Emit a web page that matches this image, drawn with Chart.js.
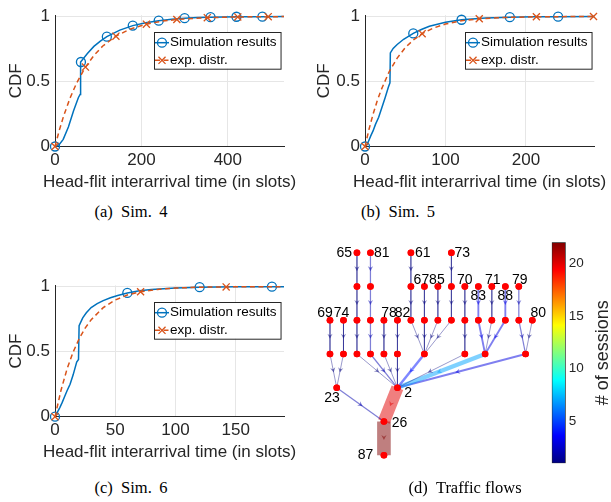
<!DOCTYPE html>
<html>
<head>
<meta charset="utf-8">
<title>Head-flit interarrival times and traffic flows</title>
<script src="https://cdn.jsdelivr.net/npm/chart.js@4.4.1/dist/chart.umd.min.js"></script>
<style>
  body { margin: 0; background: #fff; }
  #fig { position: relative; width: 611px; height: 502px; background: #fff; overflow: hidden; }
  #fig canvas { position: absolute; }
  .cap { position: absolute; width: 220px; text-align: center; white-space: nowrap;
         font: 16.5px "Liberation Serif", "Times New Roman", serif; line-height: 20px; color: #000; }
</style>
</head>
<body>
<div id="fig">
  <canvas id="sim4" width="300" height="200" style="left:0;top:0"></canvas>
  <canvas id="sim5" width="303" height="200" style="left:308px;top:0"></canvas>
  <canvas id="sim6" width="300" height="200" style="left:0;top:270px"></canvas>
  <canvas id="flows" width="250" height="250" style="left:300px;top:230px"></canvas>
  <canvas id="cbar" width="71" height="245" style="left:540px;top:230px"></canvas>
  <div class="cap" style="left:21px;top:202px">(a)&ensp;Sim.&thinsp; 4</div>
  <div class="cap" style="left:288px;top:202px">(b)&ensp;Sim.&thinsp; 5</div>
  <div class="cap" style="left:21px;top:478px">(c)&ensp;Sim.&thinsp; 6</div>
  <div class="cap" style="left:355px;top:478px">(d)&ensp;Traffic flows</div>
</div>
<script>
// ---------- CDF of head-flit interarrival time ----------
// Sim. 4
const sim4X = [0, 5, 10, 19, 31, 43, 54, 58, 58.5, 60, 75, 90, 105, 120, 150, 180, 210, 240, 270, 300, 330, 360, 420, 480, 530];
const sim4Y = [0, 0.005, 0.015, 0.055, 0.15, 0.275, 0.375, 0.40, 0.62, 0.65, 0.715, 0.77, 0.81, 0.845, 0.895, 0.93, 0.952, 0.968, 0.979, 0.987, 0.992, 0.995, 0.998, 0.999, 1];
const sim4Marks = [0, 60, 120, 180, 240, 300, 360, 420, 480];
const exp4X = [0, 10, 20, 35, 50, 70.5, 90, 110, 141, 175, 211.5, 245, 282, 352.5, 423, 493.5, 530];
const exp4Y = [0, 0.125, 0.235, 0.374, 0.488, 0.611, 0.70, 0.771, 0.849, 0.904, 0.941, 0.963, 0.977, 0.991, 0.9966, 0.9987, 0.9992];
const exp4Marks = [0, 70.5, 141, 211.5, 282, 352.5, 423, 493.5];

// Sim. 5
const sim5X = [0, 2, 4, 7, 10, 13, 17, 21, 25, 29, 31, 31.5, 35, 40, 48, 60, 70, 80, 100, 120, 150, 180, 210, 240, 285];
const sim5Y = [0, 0.01, 0.035, 0.08, 0.12, 0.17, 0.225, 0.30, 0.375, 0.455, 0.49, 0.72, 0.755, 0.785, 0.825, 0.87, 0.90, 0.925, 0.955, 0.975, 0.988, 0.995, 0.998, 0.999, 1];
const sim5Marks = [0, 60, 120, 180, 240];
const exp5X = [0, 5, 10, 15, 20, 30, 40, 50, 60, 71, 85, 100, 120, 142, 175, 213, 250, 284];
const exp5Y = [0, 0.133, 0.248, 0.348, 0.434, 0.575, 0.68, 0.76, 0.819, 0.868, 0.911, 0.942, 0.967, 0.983, 0.993, 0.9977, 0.9992, 0.9997];
const exp5Marks = [0, 71, 142, 213, 284];

// Sim. 6
const sim6X = [0, 2, 4, 6, 8, 10, 12.5, 15, 18, 19.5, 20, 23, 26, 30, 35, 40, 46, 52, 60, 70, 80, 100, 120, 150, 180, 190];
const sim6Y = [0, 0.035, 0.07, 0.11, 0.155, 0.2, 0.25, 0.32, 0.42, 0.44, 0.70, 0.76, 0.80, 0.84, 0.87, 0.893, 0.915, 0.932, 0.952, 0.968, 0.978, 0.99, 0.996, 0.999, 1, 1];
const sim6Marks = [0, 60, 120, 180];
const exp6X = [0, 5, 10, 15, 20, 25, 30, 40, 50, 60, 71, 85, 100, 120, 142, 170, 190];
const exp6Y = [0, 0.204, 0.367, 0.496, 0.599, 0.681, 0.746, 0.839, 0.898, 0.936, 0.961, 0.979, 0.99, 0.996, 0.9985, 0.9996, 0.9998];
const exp6Marks = [0, 71, 142];

const cdfTicksY = [0, 0.5, 1];

// ---------- traffic flow graph ----------
const nodeName = ['65', '81', '61', '73',
  '', '', '', '67', '85', '', '70', '83', '71', '88', '79',
  '69', '74', '', '', '78', '82', '', '', '', '', '', '', '', '', '', '80',
  '', '', '', '', '', '', '', '', '', '',
  '23', '2', '26', '87'];
const nodeCol = [2, 3, 6, 9,
  2, 3, 6, 7, 8, 9, 10, 11, 12, 13, 14,
  0, 1, 2, 3, 4, 5, 6, 7, 8, 9, 10, 11, 12, 13, 14, 15,
  0, 1, 2, 3, 4, 5, 7, 10, 11.5, 14.5,
  0.5, 5, 4, 4];
const nodeLevel = [6, 6, 6, 6,
  5, 5, 5, 5, 5, 5, 5, 5, 5, 5, 5,
  4, 4, 4, 4, 4, 4, 4, 4, 4, 4, 4, 4, 4, 4, 4, 4,
  3, 3, 3, 3, 3, 3, 3, 3, 3, 3,
  2, 2, 1, 0];
const edgeFrom = [0, 4, 17, 33, 1, 5, 18, 34, 2, 6, 21, 7, 22, 8, 23, 3, 9, 24, 37, 10, 25, 38,
  11, 26, 12, 27, 13, 28, 39, 14, 29, 30, 40, 15, 31, 16, 32, 41, 19, 35, 20, 36, 42, 43];
const edgeTo = [4, 17, 33, 42, 5, 18, 34, 42, 6, 21, 37, 22, 37, 23, 37, 9, 24, 37, 42, 25, 38, 42,
  26, 39, 27, 39, 28, 39, 42, 29, 40, 40, 42, 31, 41, 32, 41, 43, 35, 42, 36, 42, 43, 44];
const edgeSessions = [1, 1, 1, 1, 2, 2, 2, 2, 1, 1, 1, 1, 1, 1, 1, 1, 1, 1, 4, 1, 1, 1,
  3, 3, 1, 1, 3, 3, 7, 2, 2, 1, 3, 1, 1, 1, 1, 2, 1, 1, 1, 1, 20, 22];
const sessionRange = [1, 22];
const sessionTicks = [5, 10, 15, 20];

// ---------- styling ----------
const FONT = '"Liberation Sans", Arial, Helvetica, sans-serif';
const INK = '#262626';
const GRID = '#e6e6e6';
const BLUE = '#0072bd';
const ORANGE = '#d95319';

const pts = (xs, ys) => xs.map((x, i) => ({ x: x, y: ys[i] }));

function jet(t) {
  const c = v => Math.max(0, Math.min(1, v));
  return [c(1.5 - Math.abs(4 * t - 3)), c(1.5 - Math.abs(4 * t - 2)), c(1.5 - Math.abs(4 * t - 1))];
}
function jetColor(t, alpha) {
  const [r, g, b] = jet(t).map(v => Math.round(v * 255));
  return `rgba(${r},${g},${b},${alpha})`;
}
const sessionT = s => (s - sessionRange[0]) / (sessionRange[1] - sessionRange[0]);

// legend box in the upper right plus both axis titles
const cdfDecor = {
  id: 'cdfDecor',
  afterDraw(chart) {
    const { ctx, chartArea: a } = chart;
    ctx.save();
    ctx.fillStyle = INK;
    ctx.font = '17px ' + FONT;
    ctx.textAlign = 'center';
    ctx.textBaseline = 'middle';
    ctx.fillText('Head-flit interarrival time (in slots)', (a.left + a.right) / 2, chart.height - 17.3);
    ctx.translate(16.7, (a.top + a.bottom) / 2);
    ctx.rotate(-Math.PI / 2);
    ctx.fillText('CDF', 0, 0);
    ctx.restore();

    // legend
    ctx.save();
    ctx.font = '13.5px ' + FONT;
    const entries = chart.data.datasets.slice().sort((p, q) => q.order - p.order);
    const tw = Math.max(...entries.map(e => ctx.measureText(e.label).width));
    const w = 16 + tw + 4, h = 36.7;
    const L = Math.round(a.right - 3 - w), T = Math.round(a.top + 17);
    ctx.fillStyle = '#fff';
    ctx.fillRect(L, T, w, h);
    ctx.strokeStyle = INK;
    ctx.lineWidth = 1;
    ctx.strokeRect(L + 0.5, T + 0.5, w, h);
    entries.forEach((ds, i) => {
      const cy = T + 10.7 + i * 17.6;
      ctx.strokeStyle = ds.borderColor;
      ctx.lineWidth = ds.borderWidth;
      ctx.setLineDash(ds.borderDash || []);
      ctx.beginPath();
      ctx.moveTo(L + 1, cy);
      ctx.lineTo(L + 15, cy);
      ctx.stroke();
      ctx.setLineDash([]);
      ctx.fillStyle = 'rgba(0,0,0,0)';
      ctx.lineWidth = ds.pointBorderWidth;
      Chart.helpers.drawPoint(ctx, { pointStyle: ds.pointStyle, radius: ds.markSize, borderWidth: ds.pointBorderWidth, rotation: 0 }, L + 8, cy);
      ctx.fillStyle = '#000';
      ctx.textAlign = 'left';
      ctx.textBaseline = 'middle';
      ctx.fillText(ds.label, L + 16, cy);
    });
    ctx.restore();
  }
};

function cdfChart(id, sim, simMarks, exp, expMarks, xMax, xStep, yAxisW, pad, xAxisH) {
  const tickFont = { family: FONT, size: 17 };
  return new Chart(document.getElementById(id), {
    type: 'line',
    data: {
      datasets: [
        {
          label: 'exp. distr.', data: exp, order: 0,
          borderColor: ORANGE, borderWidth: 1.5, borderDash: [5, 3.5],
          pointStyle: 'crossRot', markSize: 5, pointBorderWidth: 1.3,
          pointBorderColor: ORANGE, pointBackgroundColor: 'rgba(0,0,0,0)',
          pointRadius: c => (c.raw && expMarks.includes(c.raw.x)) ? 5 : 0,
          tension: 0, clip: false
        },
        {
          label: 'Simulation results', data: sim, order: 1,
          borderColor: BLUE, borderWidth: 1.5,
          pointStyle: 'circle', markSize: 4.5, pointBorderWidth: 1.3,
          pointBorderColor: BLUE, pointBackgroundColor: 'rgba(0,0,0,0)',
          pointRadius: c => (c.raw && simMarks.includes(c.raw.x)) ? 4.5 : 0,
          tension: 0, clip: false
        }
      ]
    },
    options: {
      responsive: false, animation: false, events: [],
      layout: { padding: pad },
      plugins: { legend: { display: false }, tooltip: { enabled: false } },
      scales: {
        x: {
          type: 'linear', min: 0, max: xMax,
          afterFit: s => { s.height = xAxisH; },
          ticks: { stepSize: xStep, includeBounds: false, maxRotation: 0, autoSkip: false, padding: 3.5, color: INK, font: tickFont },
          grid: { color: GRID, drawTicks: false },
          border: { color: INK, width: 1 }
        },
        y: {
          min: 0, max: 1.01,
          afterFit: s => { s.width = yAxisW; },
          afterBuildTicks: s => { s.ticks = cdfTicksY.map(v => ({ value: v })); },
          ticks: { padding: 5, color: INK, font: tickFont, callback: v => String(v) },
          grid: { color: GRID, drawTicks: false },
          border: { color: INK, width: 1 }
        }
      }
    },
    plugins: [cdfDecor]
  });
}

cdfChart('sim4', pts(sim4X, sim4Y), sim4Marks, pts(exp4X, exp4Y), exp4Marks, 530, 200, 55,
  { left: 0, right: 16, top: 13.7, bottom: 0 }, 53.5);
cdfChart('sim5', pts(sim5X, sim5Y), sim5Marks, pts(exp5X, exp5Y), exp5Marks, 285, 100, 57,
  { left: 0, right: 16.7, top: 13.7, bottom: 0 }, 53.5);
cdfChart('sim6', pts(sim6X, sim6Y), sim6Marks, pts(exp6X, exp6Y), exp6Marks, 190, 50, 55,
  { left: 0, right: 16, top: 15.4, bottom: 0 }, 53.3);

// ---------- flow graph ----------
const nodes = nodeCol.map((c, i) => ({ x: c, y: nodeLevel[i] }));
const EDGE_ALPHA = 0.5;

// where each node label sits relative to its node: [dx, dy, align]
const labelPlace = {
  '65': [-5, 0.6, 'right'], '81': [3.5, 0.6, 'left'], '61': [4, 0.6, 'left'], '73': [3, 0.6, 'left'],
  '67': [-3, -6.7, 'center'], '85': [-1, -6.7, 'center'], '70': [0, -6.7, 'center'],
  '71': [1, -6.7, 'center'], '79': [1, -6.7, 'center'],
  '83': [0, 10, 'center'], '88': [0, 10, 'center'],
  '69': [-5, -7.3, 'center'], '74': [-2, -7.3, 'center'], '78': [5, -7.3, 'center'],
  '82': [5, -7.3, 'center'], '80': [6, -7.3, 'center'],
  '23': [-4.7, 10.6, 'center'], '2': [6.8, 5.6, 'left'], '26': [7.7, 1.6, 'left'], '87': [-10.7, 0, 'right']
};

const flowDecor = {
  id: 'flowDecor',
  afterDatasetsDraw(chart) {
    const { ctx, scales: { x, y } } = chart;
    ctx.save();
    // arrowheads half way along each edge
    edgeFrom.forEach((f, i) => {
      const x0 = x.getPixelForValue(nodes[f].x), y0 = y.getPixelForValue(nodes[f].y);
      const x1 = x.getPixelForValue(nodes[edgeTo[i]].x), y1 = y.getPixelForValue(nodes[edgeTo[i]].y);
      const len = Math.hypot(x1 - x0, y1 - y0);
      const ux = (x1 - x0) / len, uy = (y1 - y0) / len;
      const nx = -uy, ny = ux;
      const tx = x0 + ux * len * 0.55, ty = y0 + uy * len * 0.55;
      ctx.fillStyle = jetColor(sessionT(edgeSessions[i]), 0.5);
      ctx.beginPath();
      ctx.moveTo(tx, ty);
      ctx.lineTo(tx - ux * 5 + nx * 2.6, ty - uy * 5 + ny * 2.6);
      ctx.lineTo(tx - ux * 3.4, ty - uy * 3.4);
      ctx.lineTo(tx - ux * 5 - nx * 2.6, ty - uy * 5 - ny * 2.6);
      ctx.closePath();
      ctx.fill();
    });
    // redraw nodes over the arrows
    ctx.fillStyle = '#ff0000';
    nodes.forEach(n => {
      ctx.beginPath();
      ctx.arc(x.getPixelForValue(n.x), y.getPixelForValue(n.y), 3.3, 0, Math.PI * 2);
      ctx.fill();
    });
    // node labels
    ctx.fillStyle = '#000';
    ctx.font = '14px ' + FONT;
    ctx.textBaseline = 'middle';
    nodeName.forEach((name, i) => {
      if (!name) return;
      const [dx, dy, align] = labelPlace[name];
      ctx.textAlign = align;
      ctx.fillText(name, x.getPixelForValue(nodes[i].x) + dx, y.getPixelForValue(nodes[i].y) + dy);
    });
    ctx.restore();
  }
};

const edgeSets = edgeFrom.map((f, i) => ({
  data: [nodes[f], nodes[edgeTo[i]]],
  borderColor: jetColor(sessionT(edgeSessions[i]), EDGE_ALPHA),
  borderWidth: Math.max(0.8, 0.62 * edgeSessions[i]),
  borderCapStyle: 'butt',
  pointRadius: 0, order: 1, clip: false
}));

new Chart(document.getElementById('flows'), {
  type: 'line',
  data: {
    datasets: [{
      data: nodes, showLine: false, order: 0,
      pointRadius: 3.3, pointBackgroundColor: '#ff0000', pointBorderWidth: 0
    }].concat(edgeSets)
  },
  options: {
    responsive: false, animation: false, events: [],
    layout: { padding: { left: 16.5, right: 4.2, top: 5.8, bottom: 7.8 } },
    plugins: { legend: { display: false }, tooltip: { enabled: false } },
    scales: {
      x: { type: 'linear', min: -1, max: 16, display: false },
      y: { type: 'linear', min: -0.5, max: 6.5, display: false }
    }
  },
  plugins: [flowDecor]
});

// ---------- colour bar ----------
const jetStops = [0, 0.125, 0.375, 0.625, 0.875, 1];
new Chart(document.getElementById('cbar'), {
  type: 'bar',
  data: {
    labels: [''],
    datasets: [{
      data: [sessionRange],
      backgroundColor: c => {
        const a = c.chart.chartArea;
        if (!a) return '#000';
        const g = c.chart.ctx.createLinearGradient(0, a.bottom, 0, a.top);
        jetStops.forEach(t => g.addColorStop(t, jetColor(t, 1)));
        return g;
      },
      borderColor: INK, borderWidth: 1, borderSkipped: false,
      barPercentage: 1, categoryPercentage: 1
    }]
  },
  options: {
    responsive: false, animation: false, events: [],
    layout: { padding: { left: 11.7, right: 0, top: 12.3, bottom: 11.7 } },
    plugins: { legend: { display: false }, tooltip: { enabled: false } },
    scales: {
      x: { display: false },
      y: {
        position: 'right', min: sessionRange[0], max: sessionRange[1],
        afterFit: s => { s.width = 45.3; },
        afterBuildTicks: s => { s.ticks = sessionTicks.map(v => ({ value: v })); },
        ticks: { padding: 3, color: INK, font: { family: FONT, size: 13.5 } },
        grid: { display: false, drawTicks: false },
        border: { display: false }
      }
    }
  },
  plugins: [{
    id: 'cbarTitle',
    afterDraw(chart) {
      const { ctx, chartArea: a } = chart;
      ctx.save();
      ctx.fillStyle = INK;
      ctx.font = '18px ' + FONT;
      ctx.textAlign = 'center';
      ctx.textBaseline = 'middle';
      ctx.translate(a.right + 37.6, (a.top + a.bottom) / 2);
      ctx.rotate(-Math.PI / 2);
      ctx.fillText('# of sessions', 0, 0);
      ctx.restore();
    }
  }]
});
</script>
</body>
</html>
